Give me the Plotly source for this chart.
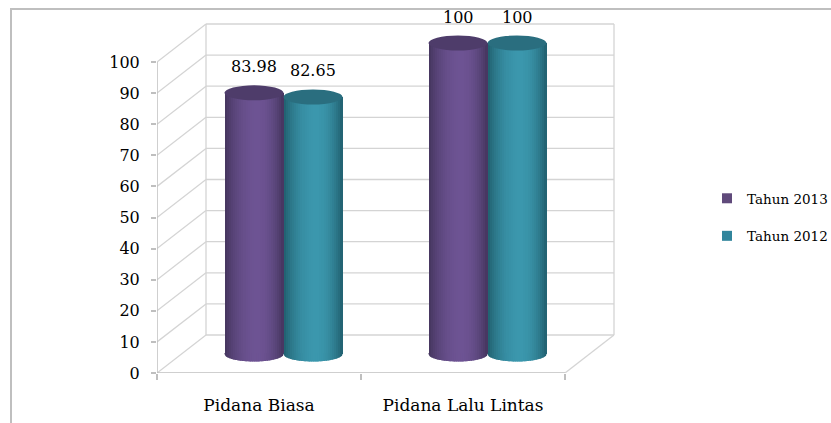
import numpy as np
import plotly.graph_objects as go

# ---- data ----
categories = ["Pidana Biasa", "Pidana Lalu Lintas"]
series_names = ["Tahun 2013", "Tahun 2012"]
tahun_2013 = [83.98, 100]
tahun_2012 = [82.65, 100]
y_ticks = list(range(0, 101, 10))

series_values = [tahun_2013, tahun_2012]

# ---- styling ----
FONT = "DejaVu Serif"
TICK_SIZE = 16
CAT_SIZE = 17
LABEL_SIZE = 16
LEGEND_SIZE = 13.5
GRID = "#d4d4d4"
BORDER = "#bfbfbf"
LEGEND_COLORS = ["#604a7b", "#31859c"]
DARK = ["#43345c", "#205e6d"]      # cylinder edge shade
LIGHT = ["#6d5393", "#3b97ad"]     # cylinder highlight
CAP = ["#4e3c6a", "#2a6e7f"]       # top cap

# ---- geometry (pixels -> axis units) ----
W, H = 831, 423
ML, MT, MB = 157, 5, 50
PLOT_W = 469
MR = W - ML - PLOT_W
PLOT_H = H - MT - MB
PX_PER_CAT = 204.0
PX_PER_UNIT = 3.11
X_MIN = -0.5
X_MAX = X_MIN + PLOT_W / PX_PER_CAT
Y_MAX = PLOT_H / PX_PER_UNIT
X_FRONT_RIGHT = X_MIN + len(categories)

DX = 49 / PX_PER_CAT          # depth offset of the back wall
DY = 38 / PX_PER_UNIT
BAR_W = 59 / PX_PER_CAT       # cylinder diameter
CAP_H = 7.5 / PX_PER_UNIT     # half-height of the elliptical caps
BASE = DY / 2                 # cylinders stand at mid depth
N_STRIPS = 28


def hex_to_rgb(h):
    h = h.lstrip("#")
    return np.array([int(h[i:i + 2], 16) for i in (0, 2, 4)], dtype=float)


def shade(s, t):
    # brightness across the cylinder: dark edges, highlight slightly right of centre
    peak = 0.55
    u = (t - peak) / (peak if t < peak else 1 - peak)
    k = np.cos(u * np.pi / 2) ** 0.8
    c = hex_to_rgb(DARK[s]) * (1 - k) + hex_to_rgb(LIGHT[s]) * k
    return "rgb(%d,%d,%d)" % tuple(np.round(c))


fig = go.Figure()
shapes = []

# back wall, side wall and floor
for v in y_ticks:
    shapes.append(dict(type="line", x0=X_MIN + DX, x1=X_FRONT_RIGHT + DX, y0=v + DY, y1=v + DY,
                       line=dict(color=GRID, width=1.3), layer="below"))
    shapes.append(dict(type="line", x0=X_MIN, x1=X_MIN + DX, y0=v, y1=v + DY,
                       line=dict(color=GRID, width=1.3), layer="below"))
for xe in (X_MIN + DX, X_FRONT_RIGHT + DX):
    shapes.append(dict(type="line", x0=xe, x1=xe, y0=DY, y1=y_ticks[-1] + DY,
                       line=dict(color=GRID, width=1.3), layer="below"))
shapes.append(dict(type="line", x0=X_FRONT_RIGHT, x1=X_FRONT_RIGHT + DX, y0=0, y1=DY,
                   line=dict(color=GRID, width=1.3), layer="below"))
shapes.append(dict(type="line", x0=X_MIN, x1=X_FRONT_RIGHT, y0=0, y1=0,
                   line=dict(color=BORDER, width=1.5), layer="below"))
shapes.append(dict(type="line", x0=X_MIN, x1=X_MIN, y0=0, y1=y_ticks[-1],
                   line=dict(color=BORDER, width=1.5), layer="below"))

x_cat = np.arange(len(categories), dtype=float)
annotations = []

for s, (name, vals) in enumerate(zip(series_names, series_values)):
    centre_off = DX / 2 + (s - 0.5) * BAR_W
    strip_w = BAR_W / N_STRIPS
    for k in range(N_STRIPS):
        t = (k + 0.5) / N_STRIPS
        col = shade(s, t)
        off = centre_off - BAR_W / 2 + k * strip_w
        last = k == N_STRIPS - 1
        sw = strip_w * (1.08 if not last else 1.0)
        fig.add_trace(go.Bar(
            x=x_cat, y=vals, base=BASE, offset=off, width=sw,
            marker=dict(color=col, line=dict(width=0)),
            showlegend=False, hoverinfo="skip"))
        # rounded bottom of the strip (overlapping the next strip to hide seams)
        pw = strip_w * (1.8 if not last else 1.0)
        for i in range(len(categories)):
            cx = x_cat[i] + centre_off
            xs = np.linspace(off, off + pw, 5) + x_cat[i]
            rel = np.clip((xs - cx) / (BAR_W / 2), -1, 1)
            ys = BASE - CAP_H * np.sqrt(1 - rel ** 2)
            path = "M%.5f,%.5f " % (xs[0], BASE + 0.3)
            path += " ".join("L%.5f,%.5f" % (a, b) for a, b in zip(xs, ys))
            path += " L%.5f,%.5f Z" % (xs[-1], BASE + 0.3)
            shapes.append(dict(type="path", path=path, fillcolor=col,
                               line=dict(width=0), layer="above"))
    for i, v in enumerate(vals):
        cx = x_cat[i] + centre_off
        top = v + BASE
        shapes.append(dict(type="circle", x0=cx - BAR_W / 2, x1=cx + BAR_W / 2,
                           y0=top - CAP_H, y1=top + CAP_H, fillcolor=CAP[s],
                           line=dict(width=0), layer="above"))
        annotations.append(dict(x=cx, y=top, text=f"{v:g}", showarrow=False,
                                yshift=26, font=dict(family=FONT, size=LABEL_SIZE, color="#000")))
    # legend entry
    fig.add_trace(go.Scatter(x=[None], y=[None], mode="markers", name=name,
                             marker=dict(symbol="square", size=10, color=LEGEND_COLORS[s]),
                             legendgroup=name))

# outer chart border
px_to_paper_x = lambda px: (px - ML) / PLOT_W
px_to_paper_y = lambda py: 1 - (py - MT) / PLOT_H
shapes.append(dict(type="rect", xref="paper", yref="paper",
                   x0=px_to_paper_x(11), x1=px_to_paper_x(W + 10),
                   y0=px_to_paper_y(H + 10), y1=px_to_paper_y(9),
                   line=dict(color=BORDER, width=2), fillcolor="rgba(0,0,0,0)", layer="below"))

fig.update_layout(
    width=W, height=H,
    margin=dict(l=ML, r=MR, t=MT, b=MB, autoexpand=False),
    paper_bgcolor="white", plot_bgcolor="white",
    barmode="overlay", bargap=0,
    font=dict(family=FONT, size=TICK_SIZE, color="#000"),
    shapes=shapes, annotations=annotations,
    showlegend=True,
    legend=dict(x=px_to_paper_x(707), y=px_to_paper_y(183), xanchor="left", yanchor="top",
                traceorder="grouped", tracegroupgap=17, itemwidth=30,
                font=dict(family=FONT, size=LEGEND_SIZE, color="#000"),
                bgcolor="rgba(0,0,0,0)"),
    xaxis=dict(range=[X_MIN, X_MAX], tickvals=list(x_cat), ticktext=categories,
               ticks="", showgrid=False, zeroline=False, showline=False,
               ticklabelstandoff=20, fixedrange=True,
               tickfont=dict(family=FONT, size=CAT_SIZE, color="#000"),
               minor=dict(tickmode="array", tickvals=[X_MIN, X_MIN + 1, X_FRONT_RIGHT],
                          ticks="outside", ticklen=6, tickcolor=BORDER, tickwidth=1.5,
                          showgrid=False)),
    yaxis=dict(range=[0, Y_MAX], tickvals=y_ticks, ticks="outside", ticklen=5,
               tickcolor=BORDER, tickwidth=1.5, showgrid=False, zeroline=False,
               showline=False, ticklabelstandoff=8, fixedrange=True,
               tickfont=dict(family=FONT, size=TICK_SIZE, color="#000")),
)

fig.write_html("out.html")
